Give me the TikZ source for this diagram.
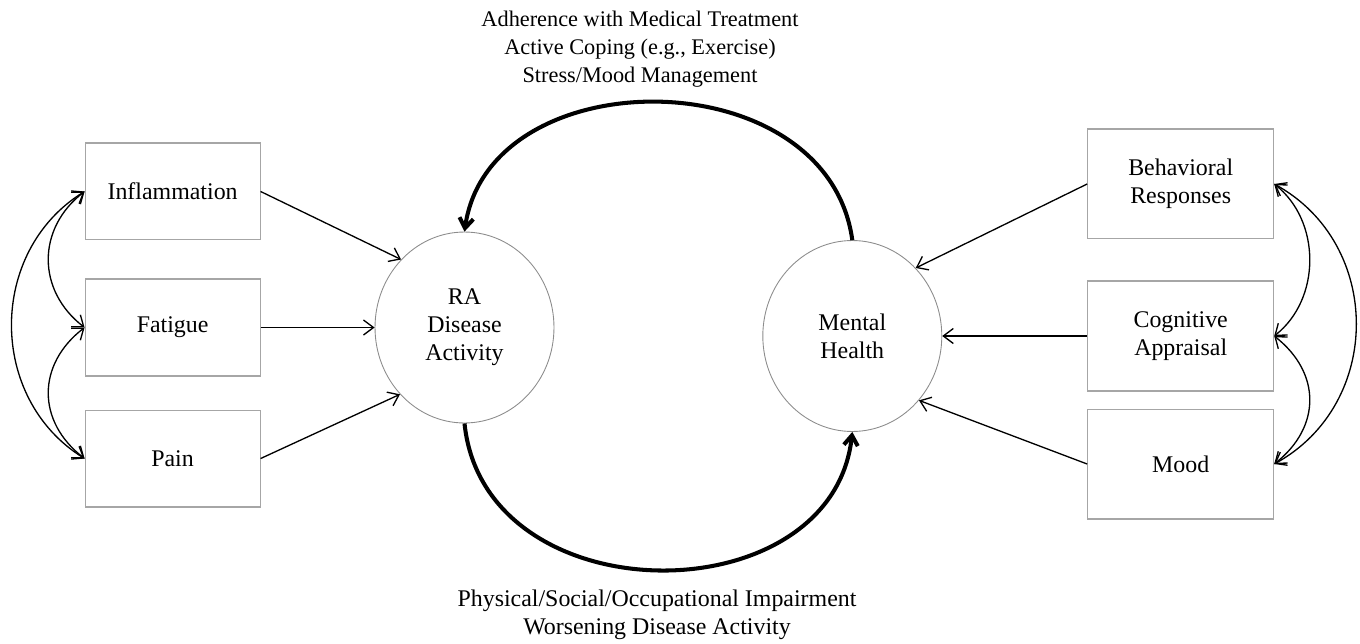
\documentclass[tikz,border=0pt]{standalone}
\usepackage{fontspec}
\setmainfont{Liberation Serif}
\usetikzlibrary{arrows.meta,positioning,shapes.geometric}
\newcommand{\lbl}{\fontsize{13.6}{16}\selectfont}
\newcommand{\toplbl}{\fontsize{12.7}{16}\selectfont}
\tikzset{
  factor/.style={draw=black!35, line width=0.6pt, minimum width=3.5cm, minimum height=1.94cm,
                 align=center, font=\lbl},
  wide/.style={factor, minimum width=3.72cm, minimum height=2.2cm},
  state/.style={draw=black!45, line width=0.5pt, ellipse, inner sep=0pt,
                minimum width=3.58cm, minimum height=3.82cm, align=center, font=\lbl},
  link/.style={-{Straight Barb[length=2mm, width=3mm]}, line width=0.75pt},
  corr/.style={{Straight Barb[length=2mm, width=3mm]}-{Straight Barb[length=2mm, width=3mm]}, line width=0.75pt},
  feedback/.style={-{Straight Barb[length=2mm, width=2.8mm]}, line width=2.3pt}
}

\begin{document}
\begin{tikzpicture}[x=0.02cm, y=-0.02cm]
  \useasboundingbox (0,0) rectangle (1360,643);
  % the two central states
  \node[state] (ra) at (464.5,327.5) {RA\\Disease\\Activity};
  \node[state, right=4.16cm of ra, yshift=-0.17cm] (mh) {Mental\\Health};
  % left: disease factors
  \node[factor, left=2.28cm of ra] (fatig) {Fatigue};
  \node[factor, above=0.76cm of fatig] (infl) {Inflammation};
  \node[factor, below=0.66cm of fatig] (pain) {Pain};
  % right: psychological factors
  \node[wide, right=2.9cm of mh] (cogn) {Cognitive\\Appraisal};
  \node[wide, above=0.82cm of cogn] (behav) {Behavioral\\Responses};
  \node[wide, below=0.34cm of cogn] (mood) {Mood};
  % pathway labels
  \node[font=\toplbl, align=center] (toplbl) at (640,49)
    {Adherence with Medical Treatment\\Active Coping (e.g., Exercise)\\Stress/Mood Management};
  \node[font=\lbl, align=center] (botlbl) at (657,615)
    {Physical/Social/Occupational Impairment\\Worsening Disease Activity};
  % direct effects
  \draw[link] (infl.east) -- (ra.133);
  \draw[link] (fatig.east) -- (ra.west);
  \draw[link] (pain.east) -- (ra.226);
  \draw[link] (behav.west) -- (mh.47);
  \draw[link] (cogn.west) -- (mh.east);
  \draw[link] (mood.west) -- (mh.316);
  % correlations
  \draw[corr] (infl.west) .. controls +(-48,37) and +(-48,-37) .. (fatig.west);
  \draw[corr] (fatig.west) .. controls +(-48,37) and +(-48,-37) .. (pain.west);
  \draw[corr] (infl.west) .. controls +(-97,60) and +(-97,-60) .. (pain.west);
  \draw[corr] (behav.east) .. controls +(47,37) and +(47,-37) .. (cogn.east);
  \draw[corr] (cogn.east) .. controls +(47,37) and +(47,-37) .. (mood.east);
  \draw[corr] (behav.east) .. controls +(109,60) and +(109,-60) .. (mood.east);
  % reciprocal loop
  \draw[feedback] (mh.north) .. controls +(-25,-182) and +(25,-174) .. (ra.north);
  \draw[feedback] (ra.south) .. controls +(20,194) and +(-20,185) .. (mh.south);
\end{tikzpicture}
\end{document}
